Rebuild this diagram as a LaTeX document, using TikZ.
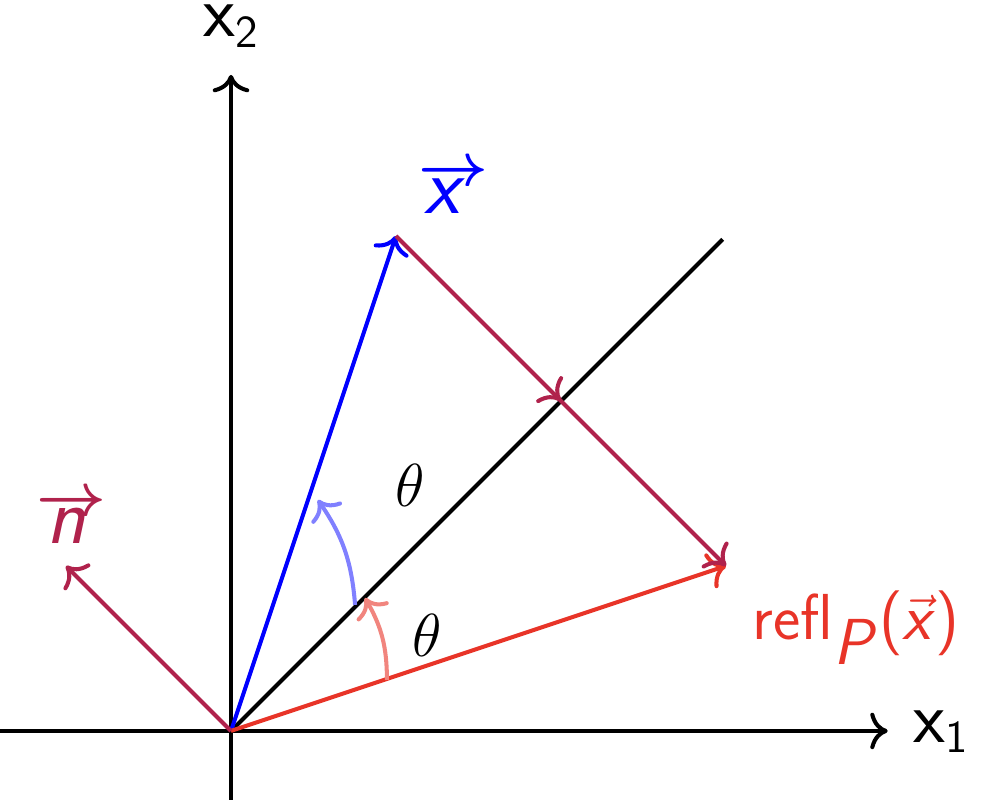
\documentclass[tikz,border=0pt]{standalone}
\usetikzlibrary{decorations.markings,arrows.meta}
\definecolor{vblue}{RGB}{0,0,255}
\definecolor{vpurple}{RGB}{176,34,76}
\definecolor{vred}{RGB}{232,52,40}
\newcommand{\sub}[1]{\raisebox{-3pt}{\fontsize{13}{15}\selectfont #1}}
\newcommand{\arrowover}[2]{\makebox[0pt][l]{\kern#1\raisebox{7.8pt}{\fontsize{18}{18}\selectfont\boldmath$\rightarrow$}}\textsf{\textit{#2}}}
\begin{document}
\begin{tikzpicture}[x=1.65cm,y=1.65cm,
  ln/.style={line width=1.15pt},
  vec/.style={ln,-{To[scale=1.2]}},
  axlbl/.style={font=\fontsize{21}{25}\selectfont\sffamily, inner sep=0pt},
  lbl/.style={font=\fontsize{23}{27}\selectfont, inner sep=0pt},
  rlbl/.style={font=\fontsize{18.5}{22}\selectfont, inner sep=0pt},
  tlbl/.style={font=\fontsize{16}{19}\selectfont, inner sep=0pt},
  midarrow/.style={postaction={decorate},decoration={markings,mark=at position 0.5 with {\arrow[line width=1.15pt]{To[scale=1.2]}}}}]
\useasboundingbox (-1.4,-0.418) rectangle (4.6,4.430);
\coordinate (O) at (0,0);
\coordinate (xl) at (-1.4,0);
\coordinate (xr) at (3.98,0);
\coordinate (yb) at (0,-0.418);
\coordinate (yt) at (0,3.976);
\coordinate (X) at (1,3);
\coordinate (R) at (3,1);
\coordinate (N) at (-1,1);
\coordinate (Pend) at (2.98,2.98);
\coordinate (ba) at (0.752,0.764);
\coordinate (bb) at (0.527,1.40);
\coordinate (ra) at (0.945,0.309);
\coordinate (rb) at (0.812,0.806);
% axes
\draw[vec] (xl) -- (xr);
\draw[vec] (yb) -- (yt);
\node[axlbl, anchor=base west] (lx1) at (4.133,-0.067) {x\sub{1}};
\node[axlbl, anchor=base west] (lx2) at (-0.17,4.206) {x\sub{2}};
% line P
\draw[ln] (O) -- (Pend);
% vectors
\draw[vec, vblue] (O) -- (X);
\draw[vec, vred] (O) -- (R);
\draw[vec, vpurple] (O) -- (N);
\draw[vec, vpurple, midarrow] (X) -- (R);
% arcs
\draw[vec, vblue!50] (ba) to[bend right=15] (bb);
\draw[vec, vred!60] (ra) to[bend right=15] (rb);
% labels
\node[lbl, text=vblue, anchor=base] (lX) at (1.294,3.139) {\arrowover{-1.5pt}{x}};
\node[lbl, text=vpurple, anchor=base] (lN) at (-0.997,1.139) {\arrowover{-3pt}{n}};
\node[rlbl, text=vred, anchor=base west] (lR) at (3.158,0.552) {\textsf{refl}$_{\textsf{\textit{P}}}$\textsf{(}$\vec{\textsf{\textit{x}}}$\textsf{)}};
\node[tlbl] (t1) at (1.085,1.49) {$\theta$};
\node[tlbl] (t2) at (1.188,0.58) {$\theta$};
\end{tikzpicture}
\end{document}
